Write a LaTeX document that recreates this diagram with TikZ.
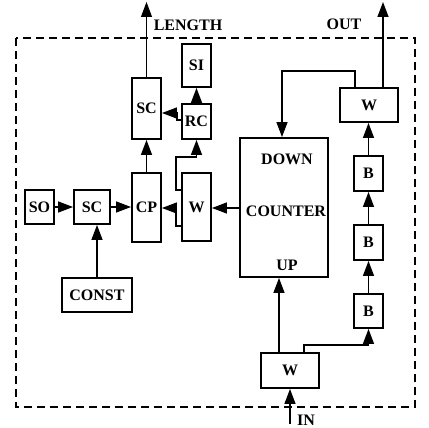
\documentclass[tikz,border=0pt]{standalone}
\usepackage{fontspec}
\setmainfont{Liberation Serif}
\usetikzlibrary{arrows.meta}
\begin{document}
\begin{tikzpicture}[x=1pt,y=-1pt,
  box/.style={draw,line width=1.9pt,inner sep=0pt,minimum width=#1},
  box/.default=29,
  lbl/.style={inner sep=0pt,font=\bfseries\fontsize{16}{17}\selectfont},
  every node/.append style={font=\bfseries\fontsize{16}{17}\selectfont},
  conn/.style={line width=1.4pt,-{Triangle[length=15pt,width=11pt]}},
  border/.style={line width=1.6pt,dash pattern=on 8pt off 5pt}]
\useasboundingbox (0,0) rectangle (429,428);
% dashed enclosure
\draw[border] (16,38) rectangle (415,407);
% boxes
\node[box,minimum height=43] (SI) at (196.5,65.5) {SI};
\node[box,minimum height=61] (SCu) at (146.5,108.5) {SC};
\node[box,minimum height=35] (RC) at (196.5,121.5) {RC};
\node[box,minimum height=69] (CP) at (146.5,207.5) {CP};
\node[box,minimum height=68] (Wl) at (196.5,207) {W};
\node[box,minimum height=34] (SO) at (39.5,207) {SO};
\node[box=36,minimum height=34] (SCl) at (92,207) {SC};
\node[box=70,minimum height=34] (CONST) at (97,295) {CONST};
\node[box=88,minimum height=139] (CNT) at (284,207.5) {};
\node[lbl] (DOWN) at (287,159) {DOWN};
\node[lbl] (COUNTER) at (286,211) {COUNTER};
\node[lbl] (UP) at (287,265) {UP};
\node[box=58,minimum height=34] (Wr) at (369,105) {W};
\node[box,minimum height=35] (B1) at (368.5,173.5) {B};
\node[box,minimum height=35] (B2) at (368.5,242.5) {B};
\node[box,minimum height=34] (B3) at (368.5,311) {B};
\node[box=58,minimum height=35] (Wb) at (290,370.5) {W};
% external labels
\node[lbl] (LENGTH) at (188,25) {LENGTH};
\node[lbl] (OUT) at (344,24) {OUT};
\node[lbl] (IN) at (306,420) {IN};
\coordinate (lenend) at (146.5,2);
\coordinate (outend) at (383,2);
\coordinate (inbeg) at (290,424);
% connectors
\draw[conn] (SO.east) -- (SCl.west);
\draw[conn] (SCl.east) -- (SCl.east -| CP.west);
\draw[conn] (CONST.north) -- (CONST.north |- SCl.south);
\draw[conn] (CP.north) -- (SCu.south);
\draw[conn,line width=0.9pt] (SCu.north) -- (lenend);
\draw[conn] (RC.north) -- (SI.south);
\draw[conn] (RC.west |- 0,120) -- (177,120) -- (177,113) -- (SCu.east |- 0,113);
\draw[conn] (Wl.west |- 0,190) -- (176,190) -- (176,157) -- (RC.south |- 0,157) -- (RC.south);
\draw[conn] (Wl.west |- 0,226) -- (176,226) -- (176,208) -- (CP.east |- 0,208);
\draw[conn] (CNT.west |- 0,208) -- (Wl.east |- 0,208);
\draw[conn] (Wr.north -| 355,0) -- (355,71) -- (282,71) -- (CNT.north -| 282,0);
\draw[conn] (Wr.north -| outend) -- (outend);
\draw[conn] (B1.north) -- (Wr.south -| B1.north);
\draw[conn] (B2.north) -- (B1.south);
\draw[conn] (B3.north) -- (B2.south);
\draw[conn] (Wb.north -| 279,0) -- (CNT.south -| 279,0);
\draw[conn] (Wb.north -| 304,0) -- (304,345) -- (B3.south |- 0,345) -- (B3.south);
\draw[conn] (inbeg) -- (Wb.south -| inbeg);
\end{tikzpicture}
\end{document}
